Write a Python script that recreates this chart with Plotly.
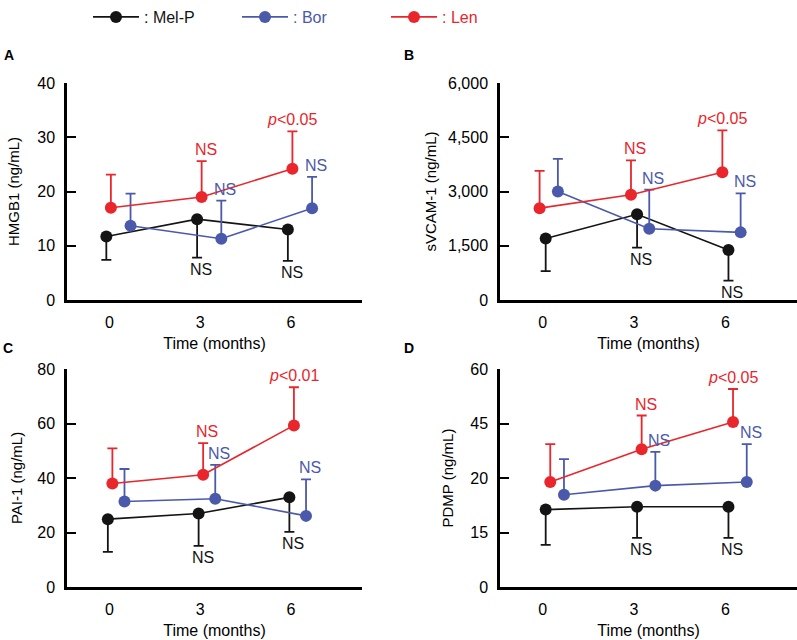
import plotly.graph_objects as go

# ---------------- data ----------------
time_months = [0, 3, 6]
series_names = ["Mel-P", "Bor", "Len"]

# Panel A: HMGB1 (ng/mL)
hmgb1_melp = [11.7, 14.9, 13.0]
hmgb1_melp_sd = [4.3, 7.1, 5.8]
hmgb1_bor = [13.7, 11.3, 16.9]
hmgb1_bor_sd = [5.9, 7.0, 5.8]
hmgb1_len = [17.0, 19.0, 24.2]
hmgb1_len_sd = [6.1, 6.6, 6.9]

# Panel B: sVCAM-1 (ng/mL)
svcam_melp = [1700, 2370, 1385]
svcam_melp_sd = [900, 920, 850]
svcam_bor = [3000, 1970, 1870]
svcam_bor_sd = [900, 1080, 1080]
svcam_len = [2540, 2910, 3530]
svcam_len_sd = [1030, 950, 1160]

# Panel C: PAI-1 (ng/mL)
pai_melp = [24.9, 27.0, 32.9]
pai_melp_sd = [12.0, 11.9, 12.7]
pai_bor = [31.4, 32.4, 26.1]
pai_bor_sd = [11.9, 12.4, 13.4]
pai_len = [38.0, 41.2, 59.3]
pai_len_sd = [12.9, 11.6, 14.0]

# Panel D: PDMP (ng/mL) (values on the axis' linear scale)
pdmp_melp = [21.3, 22.1, 22.1]
pdmp_melp_sd = [9.7, 8.6, 8.6]
pdmp_bor = [25.4, 27.9, 28.9]
pdmp_bor_sd = [9.8, 9.3, 10.4]
pdmp_len = [28.9, 37.9, 45.4]
pdmp_len_sd = [10.4, 9.3, 9.1]

# significance labels (per series, per time point)
sig_melp = ["", "NS", "NS"]
sig_bor = ["", "NS", "NS"]
sig_len = ["", "NS", "<i>p</i>&lt;0.05"]
sig_len_c = ["", "NS", "<i>p</i>&lt;0.01"]

# axis tick labels
ticks_a = [0, 10, 20, 30, 40]
ticks_b = [0, 1500, 3000, 4500, 6000]
ticks_b_text = ["0", "1,500", "3,000", "4,500", "6,000"]
ticks_c = [0, 20, 40, 60, 80]
ticks_d = [0, 15, 30, 45, 60]
ticks_d_text = ["0", "15", "20", "45", "60"]

# ---------------- style / layout ----------------
W, H = 797, 640


def xp(px):
    return px / W


def yp(py):
    return 1 - py / H


FONT = "Arial, 'Liberation Sans', Helvetica, sans-serif"
COLORS = {"Mel-P": "#141414", "Bor": "#4b59ab", "Len": "#e8262c"}
DIRECTION = {"Mel-P": "down", "Bor": "up", "Len": "up"}

panels = [
    dict(key="A", title="HMGB1 (ng/mL)", ymax=40, tickvals=ticks_a, ticktext=None,
         data={"Mel-P": (hmgb1_melp, hmgb1_melp_sd, sig_melp),
               "Bor": (hmgb1_bor, hmgb1_bor_sd, sig_bor),
               "Len": (hmgb1_len, hmgb1_len_sd, sig_len)},
         offsets={"Mel-P": -0.1, "Bor": 0.7, "Len": 0.05},
         box=(67, 362, 83, 300), standoff=15, letter=(9, 55)),
    dict(key="B", title="sVCAM-1 (ng/mL)", ymax=6000, tickvals=ticks_b, ticktext=ticks_b_text,
         data={"Mel-P": (svcam_melp, svcam_melp_sd, sig_melp),
               "Bor": (svcam_bor, svcam_bor_sd, sig_bor),
               "Len": (svcam_len, svcam_len_sd, sig_len)},
         offsets={"Mel-P": 0.1, "Bor": 0.5, "Len": -0.1},
         box=(500, 797, 83, 300), standoff=8, letter=(409, 55)),
    dict(key="C", title="PAI-1 (ng/mL)", ymax=80, tickvals=ticks_c, ticktext=None,
         data={"Mel-P": (pai_melp, pai_melp_sd, sig_melp),
               "Bor": (pai_bor, pai_bor_sd, sig_bor),
               "Len": (pai_len, pai_len_sd, sig_len_c)},
         offsets={"Mel-P": -0.05, "Bor": 0.5, "Len": 0.1},
         box=(67, 362, 369, 587), standoff=12, letter=(8, 348)),
    dict(key="D", title="PDMP (ng/mL)", ymax=60, tickvals=ticks_d, ticktext=ticks_d_text,
         data={"Mel-P": (pdmp_melp, pdmp_melp_sd, sig_melp),
               "Bor": (pdmp_bor, pdmp_bor_sd, sig_bor),
               "Len": (pdmp_len, pdmp_len_sd, sig_len)},
         offsets={"Mel-P": 0.1, "Bor": 0.7, "Len": 0.25},
         box=(500, 797, 369, 587), standoff=14, letter=(409, 348)),
]

fig = go.Figure()
annotations = []
layout = {}

for i, p in enumerate(panels):
    n = "" if i == 0 else str(i + 1)
    xref, yref = "x" + n, "y" + n
    x0, x1, y0, y1 = p["box"]
    for name in series_names:
        vals, sd, sig = p["data"][name]
        c = COLORS[name]
        xs = [t + p["offsets"][name] for t in time_months]
        zeros = [0] * len(sd)
        up = DIRECTION[name] == "up"
        fig.add_trace(go.Scatter(
            x=xs, y=vals, mode="lines+markers",
            name="<span style='color:%s'>: %s</span>" % (c, name),
            legendgroup=name, showlegend=(i == 0),
            xaxis=xref, yaxis=yref,
            line=dict(color=c, width=1.6),
            marker=dict(color=c, size=12),
            error_y=dict(type="data", symmetric=False,
                         array=sd if up else zeros,
                         arrayminus=zeros if up else sd,
                         color=c, thickness=1.8, width=5),
        ))
        for xv, v, s, label in zip(xs, vals, sd, sig):
            if not label:
                continue
            yv = v + s if up else v - s
            annotations.append(dict(
                x=xv, y=yv, xref=xref, yref=yref, text=label, showarrow=False,
                yanchor="bottom" if up else "top",
                xshift=0 if label.startswith("<i>") else 4,
                yshift=1 if up else -1,
                font=dict(family=FONT, size=16, color=c),
            ))
    layout["xaxis" + n] = dict(
        domain=[xp(x0), min(1.0, xp(x1))], anchor=yref, range=[-1.4, 8.35],
        tickvals=time_months, ticks="", showline=True, linewidth=2.5, linecolor="black",
        showgrid=False, zeroline=False, automargin=False, ticklabelstandoff=6,
        tickfont=dict(family=FONT, size=16, color="black"),
        title=dict(text="Time (months)", standoff=8,
                   font=dict(family=FONT, size=16, color="black")),
    )
    ya = dict(
        domain=[yp(y1), yp(y0)], anchor=xref, range=[0, p["ymax"]],
        tickvals=p["tickvals"], ticks="inside", ticklen=9, tickwidth=2.2, tickcolor="black",
        showline=True, linewidth=2.5, linecolor="black",
        showgrid=False, zeroline=False, automargin=False, ticklabelstandoff=6,
        tickfont=dict(family=FONT, size=16, color="black"),
        title=dict(text=p["title"], standoff=p["standoff"],
                   font=dict(family=FONT, size=15, color="black")),
    )
    if p["ticktext"]:
        ya["ticktext"] = p["ticktext"]
    layout["yaxis" + n] = ya
    # panel letter
    lx, ly = p["letter"]
    annotations.append(dict(
        x=xp(lx), y=yp(ly), xref="paper", yref="paper",
        text="<b>%s</b>" % p["key"], showarrow=False, xanchor="center", yanchor="middle",
        font=dict(family=FONT, size=14, color="black"),
    ))

fig.update_layout(
    width=W, height=H, autosize=False,
    margin=dict(l=0, r=0, t=0, b=0),
    paper_bgcolor="white", plot_bgcolor="white",
    font=dict(family=FONT, size=15, color="black"),
    annotations=annotations,
    hovermode=False,
    legend=dict(orientation="h", x=xp(88), y=1.0, xanchor="left", yanchor="top",
                font=dict(family=FONT, size=16), itemwidth=46,
                entrywidth=88, entrywidthmode="pixels", bgcolor="rgba(0,0,0,0)"),
    **layout,
)

# render the figure flush with the page's top-left corner
fig.write_html("out.html", config={"displayModeBar": False},
               post_script="document.body.style.margin='0px';")
